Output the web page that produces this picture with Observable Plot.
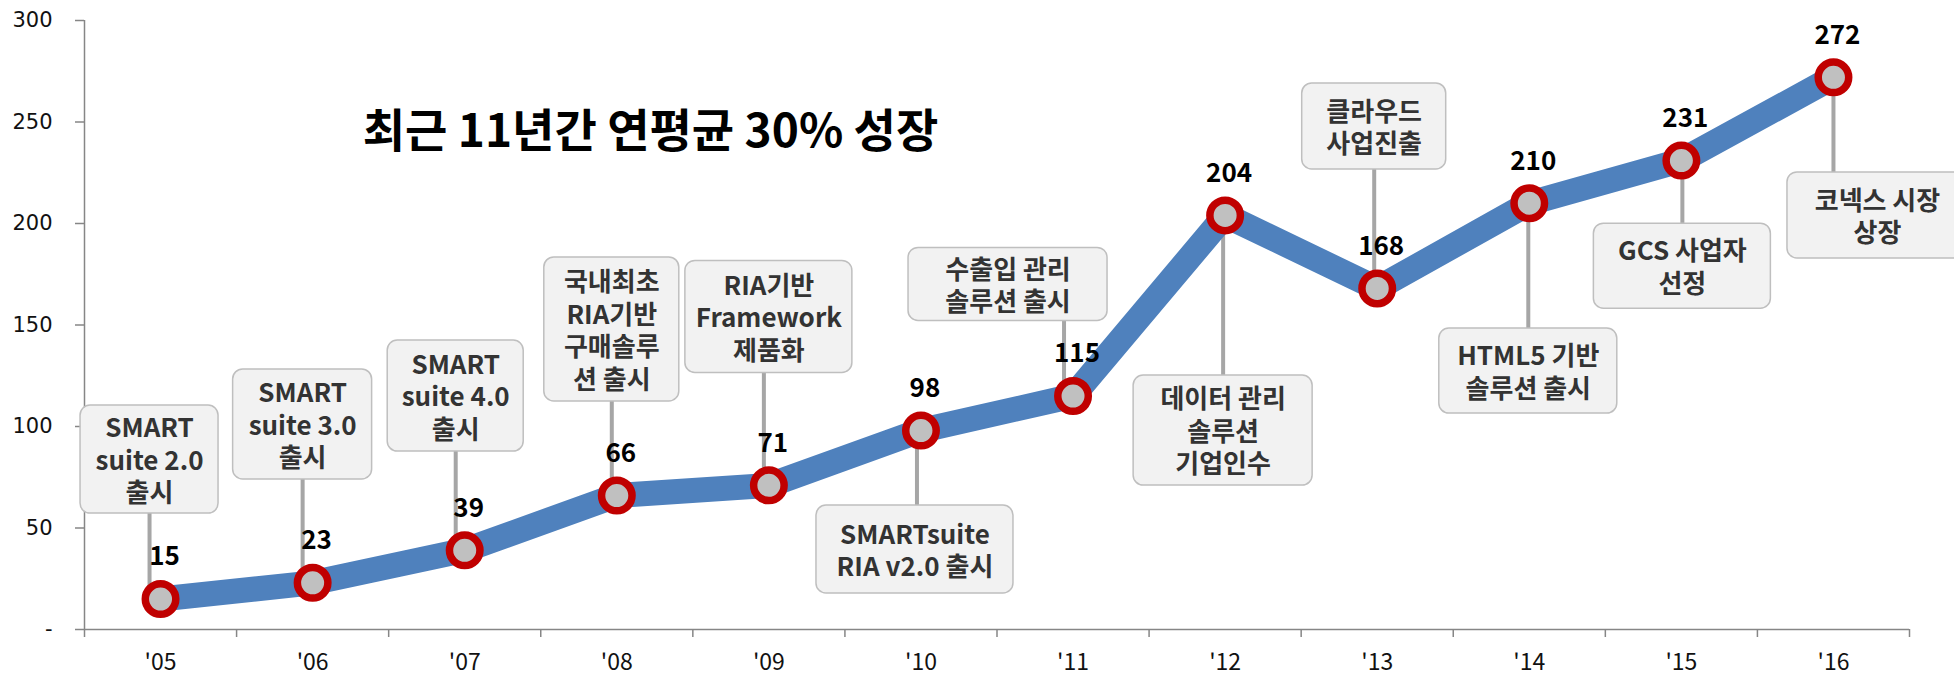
<!DOCTYPE html>
<html>
<head>
<meta charset="utf-8">
<script src="https://cdn.jsdelivr.net/npm/d3@7"></script>
<script src="https://cdn.jsdelivr.net/npm/@observablehq/plot@0.6"></script>
<style>
  html, body { margin: 0; padding: 0; background: #fff; }
  #chart svg { display: block; }
</style>
</head>
<body>
<div id="chart"></div>
<script>
// ---- data ----
const years = ["'05","'06","'07","'08","'09","'10","'11","'12","'13","'14","'15","'16"];
const values = [15, 23, 39, 66, 71, 98, 115, 204, 168, 210, 231, 272];
const notes = [
  "SMART\nsuite 2.0\n출시",
  "SMART\nsuite 3.0\n출시",
  "SMART\nsuite 4.0\n출시",
  "국내최초\nRIA기반\n구매솔루\n션 출시",
  "RIA기반\nFramework\n제품화",
  "SMARTsuite\nRIA v2.0 출시",
  "수출입 관리\n솔루션 출시",
  "데이터 관리\n솔루션\n기업인수",
  "클라우드\n사업진출",
  "HTML5 기반\n솔루션 출시",
  "GCS 사업자\n선정",
  "코넥스 시장\n상장"
];
const yTicks = [0, 50, 100, 150, 200, 250, 300];
const yTickLabels = ["-", "50", "100", "150", "200", "250", "300"];
const title = "최근 11년간 연평균 30% 성장";

// ---- callout layout (box centre in y units, pixel offsets and sizes) ----
const noteAt = [83.7, 101, 115, 147.8, 154, 39.4, 170, 98, 247.8, 127.3, 179, 204];
const noteDx = [-11, -10, -9, -5, -5, -4, -9, -2, -3, -1, 1, 0];
const boxDx  = [0, 0, 0, 0, 5, -2, -56, 0, 0, 0, 0, 44];
const boxW   = [138, 139, 136, 135, 167, 197, 199, 179, 144, 178, 177, 180];
const boxH   = [108, 110, 111, 144, 112, 88, 73, 110, 86, 85, 85, 86];

// ---- dimensions ----
const W = 1954, H = 674, mL = 84, mR = 45, mT = 20, mB = 45;
const pxX = (W - mL - mR) / 12;   // pixels per x unit
const pxY = (H - mT - mB) / 300;  // pixels per y unit

const rows = years.map((year, i) => ({
  i, year, value: values[i], note: notes[i],
  ny: noteAt[i],
  cx: i + noteDx[i] / pxX,
  bx: i + (noteDx[i] + boxDx[i]) / pxX,
  hw: boxW[i] / 2 / pxX,
  hh: boxH[i] / 2 / pxY
}));

const axisColor = "#868686";
const font = "'Noto Sans CJK KR', 'Noto Sans', sans-serif";

const chart = Plot.plot({
  width: W, height: H,
  marginLeft: mL, marginRight: mR, marginTop: mT, marginBottom: mB,
  x: { domain: [-0.5, 11.5] },
  y: { domain: [0, 300] },
  style: { fontFamily: font, background: "#fff", overflow: "visible" },
  marks: [
    // axes
    Plot.ruleY([0], { x1: -0.5, x2: 11.5, stroke: axisColor, strokeWidth: 1.5 }),
    Plot.ruleX([-0.5], { y1: 0, y2: 300, stroke: axisColor, strokeWidth: 1.5 }),
    Plot.axisY(yTicks, {
      tickSize: 9, tickPadding: 23, label: null,
      tickFormat: d => yTickLabels[yTicks.indexOf(d)],
      fontSize: 21, fontFamily: "'DejaVu Sans', sans-serif",
      stroke: axisColor, strokeWidth: 1.5, fill: "#111"
    }),
    Plot.axisX(d3.range(-0.5, 12, 1), {
      tickSize: 8, tickFormat: () => "", label: null,
      stroke: axisColor, strokeWidth: 1.5
    }),
    Plot.axisX(d3.range(0, 12), {
      tickSize: 0, tickPadding: 24, label: null,
      tickFormat: i => years[i],
      fontSize: 23, fill: "#111"
    }),
    // connectors
    Plot.ruleX(rows, { x: "cx", y1: "value", y2: "ny", stroke: "#A6A6A6", strokeWidth: 4 }),
    // series line
    Plot.line(rows, { x: "i", y: "value", stroke: "#4F81BD", strokeWidth: 25, strokeLinejoin: "round" }),
    // markers
    Plot.dot(rows, { x: "i", y: "value", r: 15.25, fill: "#C0C0C0", stroke: "#C00000", strokeWidth: 7.5 }),
    // value labels
    Plot.text(rows, {
      x: "i", y: "value", text: d => String(d.value),
      dx: 4, dy: -42, fontSize: 26, fontWeight: "bold", fill: "#000"
    }),
    // callout boxes
    Plot.rect(rows, {
      x1: d => d.bx - d.hw, x2: d => d.bx + d.hw,
      y1: d => d.ny - d.hh, y2: d => d.ny + d.hh,
      fill: "#F2F2F2", stroke: "#BFBFBF", strokeWidth: 1.5, rx: 10, ry: 10
    }),
    Plot.text(rows, {
      x: "bx", y: "ny", text: "note",
      lineAnchor: "middle", lineHeight: 1.25,
      fontSize: 26, fontWeight: "bold", fill: "#333"
    }),
    // headline
    Plot.text([title], {
      frameAnchor: "top-left", dx: 650 - mL, dy: 132 - mT,
      textAnchor: "middle", lineAnchor: "middle",
      fontSize: 46, fontWeight: "bold", fill: "#000"
    })
  ]
});

document.getElementById("chart").append(chart);
</script>
</body>
</html>
